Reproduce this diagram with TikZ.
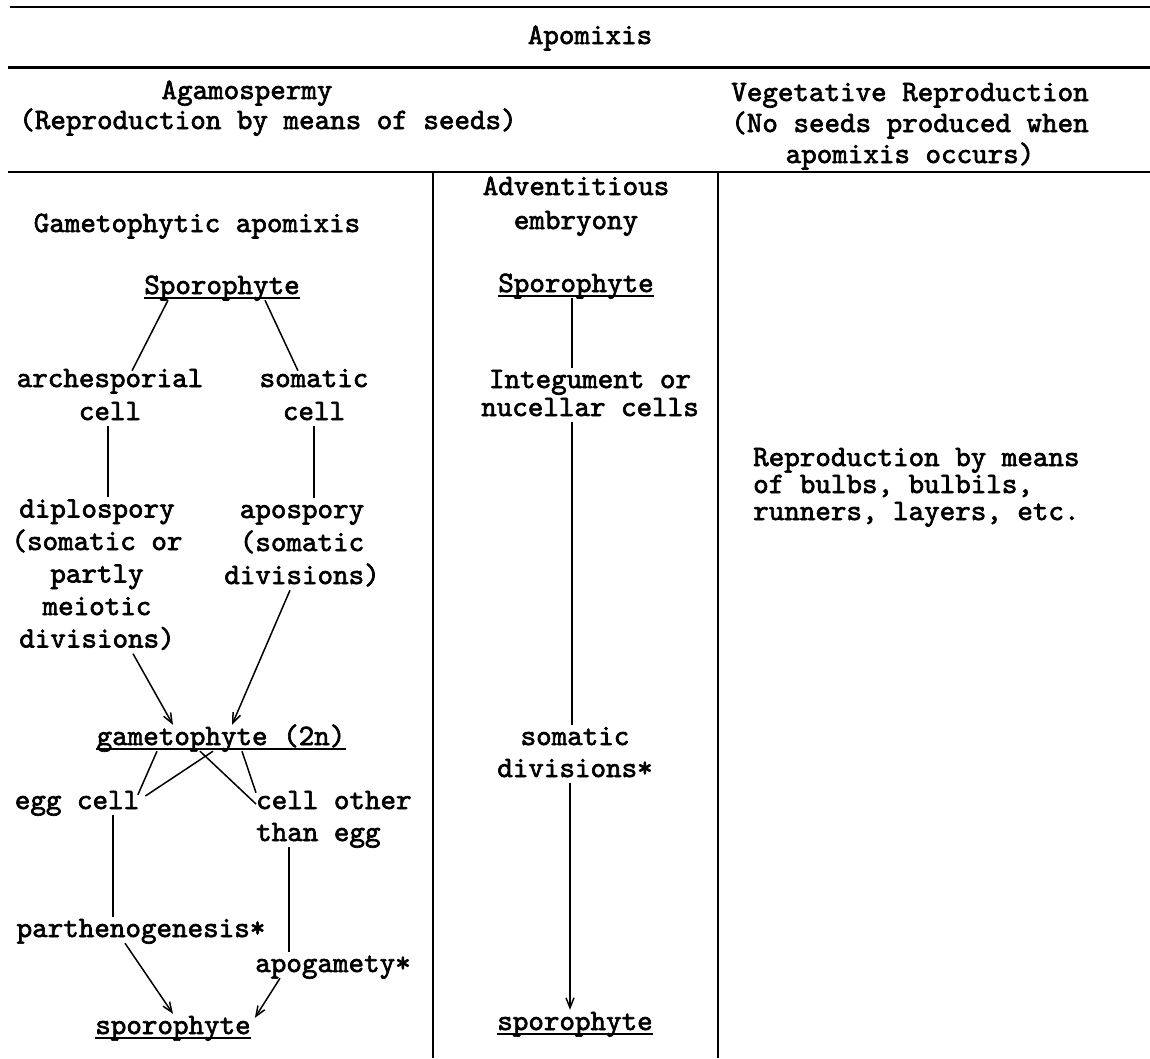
\documentclass[tikz,border=0pt]{standalone}
\usepackage{fontspec}
\usetikzlibrary{arrows.meta}
\newfontfamily\tw{lmmono10-regular.otf}[FakeBold=2.2]
\newcommand\tsz[1]{\fontsize{29.6pt}{#1pt}\selectfont}
\begin{document}
\begin{tikzpicture}[x=1pt,y=-1pt,
  txt/.style={inner sep=0pt,text height=20pt,text depth=6pt,font={\tw\tsz{32}}},
  col/.style={line width=2pt},
  link/.style={line width=1.5pt},
  arr/.style={link,-{Straight Barb[length=10pt,width=8pt]}},
  ul/.style={line width=1.8pt}]
\useasboundingbox (0,0) rectangle (1150,1058);
% table rules
\draw[line width=2pt] (10,7) -- (1150,7);
\draw[line width=3pt] (8,67) -- (1150,67);
\draw[line width=2.5pt] (8,172) -- (1150,172);
\draw[col] (433,172) -- (433,1058);
\draw[col] (718,172) -- (718,1058);
% headers
\node[txt] (apo) at (590,37) {Apomixis};
\node[txt] (aga1) at (247,92) {Agamospermy};
\node[txt] (aga2) at (268,122) {(Reproduction by means of seeds)};
\node[txt,align=center,font={\tw\tsz{31}},text height=82pt] (veg) at (910,125) {Vegetative Reproduction\\(No seeds produced when\\apomixis occurs)};
% left column
\node[txt] (gam) at (197,225) {Gametophytic apomixis};
\node[txt] (spL) at (222,287) {Sporophyte};
\node[txt,align=center,font={\tw\tsz{33}},text height=53pt] (arch) at (110,396.5) {archesporial\\cell};
\node[txt,align=center,font={\tw\tsz{33}},text height=53pt] (soma) at (314,396.5) {somatic\\cell};
\node[txt,align=center,font={\tw\tsz{32.5}},text height=150pt] (dipl) at (97,575.5) {diplospory\\(somatic or\\partly\\meiotic\\divisions)};
\node[txt,align=center,font={\tw\tsz{33}},text height=86pt] (aposp) at (302,544) {apospory\\(somatic\\divisions)};
\node[txt] (gmt) at (221,738) {gametophyte (2n)};
\node[txt] (egg) at (77,802) {egg cell};
\node[txt,align=left,anchor=west,text height=52pt] (cot) at (256,818) {cell other\\than egg};
\node[txt] (parth) at (141,930) {parthenogenesis*};
\node[txt] (apog) at (333,965) {apogamety*};
\node[txt] (spL2) at (173,1027) {sporophyte};
% middle column
\node[txt,align=center,font={\tw\tsz{34}},text height=54pt] (adv) at (576,205) {Adventitious\\embryony};
\node[txt] (spM) at (576,285) {Sporophyte};
\node[txt,align=center,font={\tw\tsz{28}},text height=48pt] (integ) at (590,395) {Integument or\\nucellar cells};
\node[txt,align=center,text height=52pt] (somd) at (575,754) {somatic\\divisions*};
\node[txt] (spM2) at (575,1023) {sporophyte};
% right column
\node[txt,align=left,anchor=west,font={\tw\tsz{27}},text height=74pt] (rep) at (753,486) {Reproduction by means\\of bulbs, bulbils,\\runners, layers, etc.};
% underlines
\foreach \n in {spL,gmt,spL2,spM,spM2}
  \draw[ul] ([yshift=2pt]\n.south west) -- ([yshift=2pt]\n.south east);
% connectors left
\draw[link] ([xshift=-54pt]spL.south) -- ([xshift=22pt,yshift=-4pt]arch.north);
\draw[link] ([xshift=43pt]spL.south) -- ([xshift=-16pt,yshift=-4pt]soma.north);
\draw[link] ([xshift=-2pt]arch.south) -- ([xshift=-2pt]arch.south |- dipl.north);
\draw[link] (soma.south) -- (soma.south |- aposp.north);
\draw[arr] ([xshift=36pt]dipl.south) -- ([xshift=-48pt]gmt.north);
\draw[arr] ([xshift=-12pt]aposp.south) -- ([xshift=11pt]gmt.north);
\draw[link] ([xshift=-64pt]gmt.south) -- ([shift={(-1.5pt,-6pt)}]egg.north east);
\draw[link] ([xshift=-8pt]gmt.south) -- ([shift={(6pt,6pt)}]egg.east);
\draw[link] ([xshift=-21pt]gmt.south) -- ([yshift=14pt]cot.west);
\draw[link] ([xshift=21pt]gmt.south) -- ([yshift=-4pt]cot.north west);
\draw[link] ([xshift=36pt]egg.south) -- ([xshift=36pt]egg.south |- parth.north);
\draw[link] ([xshift=-45pt]cot.south) -- ([xshift=-45pt]cot.south |- apog.north);
\draw[arr] ([xshift=-16pt]parth.south) -- (spL2.north);
\draw[arr] ([xshift=-53pt]apog.south) -- ([shift={(4pt,-4pt)}]spL2.north east);
% connectors middle
\draw[link] ([xshift=-4pt]spM.south) -- ([xshift=-4pt]spM.south |- integ.north);
\draw[link] ([xshift=-4pt]spM.south |- integ.south) -- ([xshift=-4pt]spM.south |- somd.north);
\draw[arr] ([xshift=-5pt]somd.south) -- ([xshift=-5pt]spM2.north);
\end{tikzpicture}
\end{document}
